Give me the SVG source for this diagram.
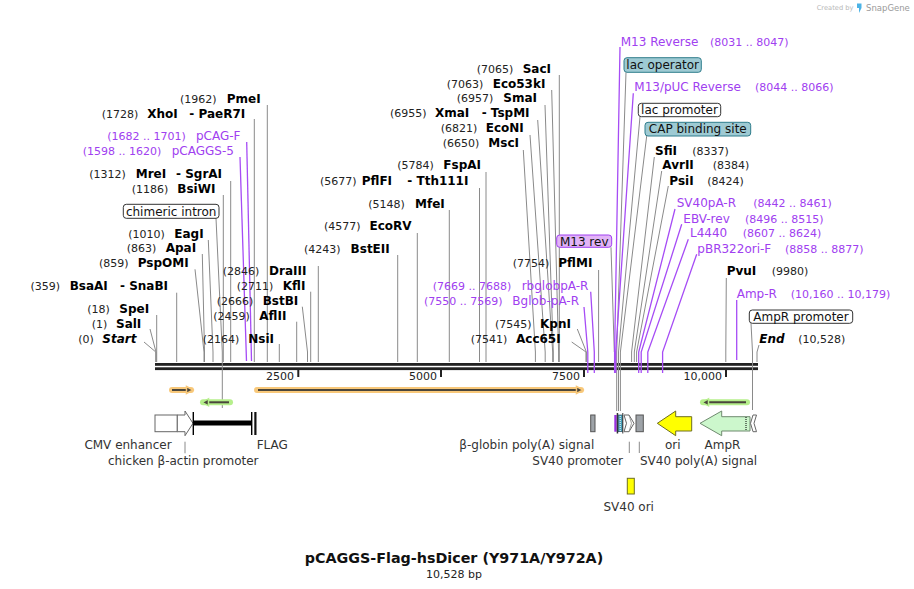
<svg xmlns="http://www.w3.org/2000/svg" width="914" height="589" viewBox="0 0 914 589">
<style>
text{font-family:"DejaVu Sans",Verdana,sans-serif}
.n{font-size:11px;fill:#222}
.b{font-size:12px;font-weight:bold;fill:#000}
.bi{font-size:12px;font-weight:bold;font-style:italic;fill:#000}
.p{font-size:12px;fill:#a040f0}
.pn{font-size:11px;fill:#a040f0}
.f{font-size:12px;fill:#333}
.bx{font-size:12px;fill:#111}
.t{font-size:11px;fill:#222}
.l{stroke:#8a8a8a;stroke-width:1;fill:none}
.lp{stroke:#a64cf5;stroke-width:1.3;fill:none}
.box{fill:#fff;stroke:#333;stroke-width:1}
.blue{fill:#9ecad3;stroke:#2f7d8c;stroke-width:1}
.feat{stroke:#666;stroke-width:1}
</style>

<g id="backbone">
<rect x="155" y="363" width="603" height="2.8" fill="#222"/>
<rect x="155" y="367.3" width="603" height="2.8" fill="#222"/>
<rect x="297.3" y="370" width="2" height="7" fill="#222"/>
<rect x="440" y="370" width="2" height="7" fill="#222"/>
<rect x="583" y="370" width="2" height="7" fill="#222"/>
<rect x="725" y="370" width="2" height="7" fill="#222"/>
<text class="t" x="294" y="379.5" text-anchor="end">2500</text>
<text class="t" x="437" y="379.5" text-anchor="end">5000</text>
<text class="t" x="580" y="379.5" text-anchor="end">7500</text>
<text class="t" x="722" y="379.5" text-anchor="end">10,000</text>
</g>

<g id="connectors">
<path class="l" d="M267.3,105V362"/>
<path class="l" d="M254.3,119V362"/>
<path class="lp" d="M246.7,142L251.5,361"/>
<path class="lp" d="M240,157L246.5,361"/>
<path class="l" d="M230.7,181V362"/>
<path class="l" d="M223.3,195V362"/>
<path class="l" d="M216,218.3L222.3,352V408"/>
<path class="l" d="M208.3,240L213,352V362"/>
<path class="l" d="M202.3,254L204.5,352V362"/>
<path class="l" d="M195,269.3L204,352V362"/>
<path class="l" d="M176.7,292.7V362"/>
<path class="l" d="M156.7,315V362"/>
<path class="l" d="M150,329L156,352V362"/>
<path class="l" d="M144,342L155.8,352V362"/>
<path class="l" d="M318.3,266V362"/>
<path class="l" d="M310.7,291.7V362"/>
<path class="l" d="M302.3,306.7L307.5,352V362"/>
<path class="l" d="M296.7,321.7V362"/>
<path class="l" d="M279.3,344V362"/>
<path class="l" d="M397.7,255V362"/>
<path class="l" d="M417.3,233V362"/>
<path class="l" d="M449.3,210V362"/>
<path class="l" d="M479.5,188V362"/>
<path class="l" d="M486,172V362"/>
<path class="l" d="M523.3,150L535.4,352V362"/>
<path class="l" d="M530,135L545.2,352V362"/>
<path class="l" d="M537.7,120L552.7,352V362"/>
<path class="l" d="M545,105L553.3,352V362"/>
<path class="l" d="M551.7,90L558.6,352V362"/>
<path class="l" d="M559.3,75V362"/>
<path class="l" d="M611,247.3L614.3,352"/>
<path class="l" d="M598.6,270V362"/>
<path class="lp" d="M590.7,291.7L594.3,352V373"/>
<path class="lp" d="M584,307L587.8,352V373"/>
<path class="l" d="M577.3,329L586.4,352V362"/>
<path class="l" d="M571.7,342L586,352V362"/>
<path class="lp" d="M620,47L614.6,352V373"/>
<path class="l" d="M626,72.3L616.7,352V411"/>
<path class="lp" d="M633.3,93.3L615.7,352V373"/>
<path class="l" d="M640,116.7L618.5,352V411"/>
<path class="l" d="M646.7,136L620.4,352V411"/>
<path class="l" d="M654.3,157L631.6,352V362"/>
<path class="l" d="M661.7,171L634.3,352V362"/>
<path class="l" d="M668.3,186L636.6,352V362"/>
<path class="lp" d="M675,209L638.7,352V373"/>
<path class="lp" d="M681.7,224.3L641.2,352V373"/>
<path class="lp" d="M688.3,239.3L647.8,352V373"/>
<path class="lp" d="M696.7,254.3L662.6,352V373"/>
<path class="l" d="M726.3,278L725.8,352V362"/>
<path class="lp" d="M736.7,300V360"/>
<path class="l" d="M751,323.3L752.5,352V410"/>
<path class="l" d="M759,345L757,352V362"/>
<path class="l" d="M185,441.7V453.3"/>
<path class="l" d="M629.3,441.7V453"/>
<path class="l" d="M639.3,441.7V453"/>
</g>

<!-- Left cluster labels -->
<g id="PmeI"><text class="n" x="180" y="103">(1962)</text><text class="b" x="226.7" y="103">PmeI</text></g>
<g id="XhoI"><text class="n" x="101.7" y="118">(1728)</text><text class="b" y="118"><tspan x="147.3">XhoI</tspan><tspan x="189.3">- PaeR7I</tspan></text></g>
<g id="pCAG-F"><text class="pn" x="107.3" y="140">(1682 .. 1701)</text><text class="p" x="196" y="140">pCAG-F</text></g>
<g id="pCAGGS-5"><text class="pn" x="82.7" y="155">(1598 .. 1620)</text><text class="p" x="171.7" y="155">pCAGGS-5</text></g>
<g id="MreI"><text class="n" x="89.3" y="178.3">(1312)</text><text class="b" y="178.3"><tspan x="135.7">MreI</tspan><tspan x="176">- SgrAI</tspan></text></g>
<g id="BsiWI"><text class="n" x="131.7" y="193">(1186)</text><text class="b" x="177.3" y="193">BsiWI</text></g>
<g id="chimeric-intron"><rect class="box" x="123.3" y="204.3" width="95.7" height="14" rx="3"/><text class="bx" x="171.2" y="215.5" text-anchor="middle">chimeric intron</text></g>
<g id="EagI"><text class="n" x="128.3" y="237.5">(1010)</text><text class="b" x="174.3" y="237.5">EagI</text></g>
<g id="ApaI"><text class="n" x="126.7" y="252.3">(863)</text><text class="b" x="165.7" y="252.3">ApaI</text></g>
<g id="PspOMI"><text class="n" x="99" y="267.3">(859)</text><text class="b" x="137.7" y="267.3">PspOMI</text></g>
<g id="BsaAI"><text class="n" x="30.5" y="289.7">(359)</text><text class="b" y="289.7"><tspan x="69.7">BsaAI</tspan><tspan x="120">- SnaBI</tspan></text></g>
<g id="SpeI"><text class="n" x="87.3" y="313">(18)</text><text class="b" x="119.3" y="313">SpeI</text></g>
<g id="SalI"><text class="n" x="91.7" y="328">(1)</text><text class="b" x="116" y="328">SalI</text></g>
<g id="Start"><text class="n" x="78.3" y="343">(0)</text><text class="bi" x="102.3" y="343">Start</text></g>
<g id="DraIII"><text class="n" x="222.7" y="274.7">(2846)</text><text class="b" x="269" y="274.7">DraIII</text></g>
<g id="KflI"><text class="n" x="236.7" y="289.7">(2711)</text><text class="b" x="282.7" y="289.7">KflI</text></g>
<g id="BstBI"><text class="n" x="216.7" y="305">(2666)</text><text class="b" x="262.7" y="305">BstBI</text></g>
<g id="AflII"><text class="n" x="213.3" y="320">(2459)</text><text class="b" x="259.3" y="320">AflII</text></g>
<g id="NsiI"><text class="n" x="202.7" y="343">(2164)</text><text class="b" x="248.3" y="343">NsiI</text></g>

<!-- Middle cluster -->
<g id="BstEII"><text class="n" x="304" y="253">(4243)</text><text class="b" x="350.6" y="253">BstEII</text></g>
<g id="EcoRV"><text class="n" x="324" y="230">(4577)</text><text class="b" x="369.5" y="230">EcoRV</text></g>
<g id="MfeI"><text class="n" x="368.3" y="208">(5148)</text><text class="b" x="415" y="208">MfeI</text></g>
<g id="PflFI"><text class="n" x="320" y="185">(5677)</text><text class="b" y="185"><tspan x="361.7">PflFI</tspan><tspan x="407.3">- Tth111I</tspan></text></g>
<g id="FspAI"><text class="n" x="397.3" y="169">(5784)</text><text class="b" x="443.3" y="169">FspAI</text></g>
<g id="MscI"><text class="n" x="442.7" y="147">(6650)</text><text class="b" x="488.3" y="147">MscI</text></g>
<g id="EcoNI"><text class="n" x="440.7" y="132">(6821)</text><text class="b" x="485.7" y="132">EcoNI</text></g>
<g id="XmaI"><text class="n" x="390" y="117">(6955)</text><text class="b" y="117"><tspan x="435">XmaI</tspan><tspan x="481.7">- TspMI</tspan></text></g>
<g id="SmaI"><text class="n" x="456.7" y="102">(6957)</text><text class="b" x="503.3" y="102">SmaI</text></g>
<g id="Eco53kI"><text class="n" x="446.7" y="88">(7063)</text><text class="b" x="492.7" y="88">Eco53kI</text></g>
<g id="SacI"><text class="n" x="476.7" y="73.3">(7065)</text><text class="b" x="522.7" y="73.3">SacI</text></g>
<g id="M13-rev"><rect x="556.7" y="235" width="55" height="12.3" rx="3" fill="#e2b4f7" stroke="#a040f0"/><text class="bx" x="584.2" y="245.6" text-anchor="middle">M13 rev</text></g>
<g id="PflMI"><text class="n" x="512.7" y="267.3">(7754)</text><text class="b" x="558.3" y="267.3">PflMI</text></g>
<g id="rbglobpA-R"><text class="pn" x="432.7" y="289.7">(7669 .. 7688)</text><text class="p" x="521.7" y="289.7">rbglobpA-R</text></g>
<g id="Bglob-pA-R"><text class="pn" x="424" y="304.7">(7550 .. 7569)</text><text class="p" x="512.3" y="304.7">Bglob-pA-R</text></g>
<g id="KpnI"><text class="n" x="495" y="328">(7545)</text><text class="b" x="540" y="328">KpnI</text></g>
<g id="Acc65I"><text class="n" x="470.7" y="343">(7541)</text><text class="b" x="516" y="343">Acc65I</text></g>

<!-- Right cluster -->
<g id="M13-Reverse"><text class="p" x="620.7" y="45.7">M13 Reverse</text><text class="pn" x="710" y="45.7">(8031 .. 8047)</text></g>
<g id="lac-operator"><rect class="blue" x="624" y="57.7" width="77.3" height="14.6" rx="3"/><text class="bx" x="662.7" y="69.2" text-anchor="middle">lac operator</text></g>
<g id="M13pUC-Reverse"><text class="p" x="634.3" y="90.7">M13/pUC Reverse</text><text class="pn" x="755" y="90.7">(8044 .. 8066)</text></g>
<g id="lac-promoter"><rect class="box" x="638.3" y="103.3" width="82.4" height="13.4" rx="3"/><text class="bx" x="679.5" y="114.2" text-anchor="middle">lac promoter</text></g>
<g id="CAP-binding-site"><rect class="blue" x="645" y="122.3" width="105.7" height="13.7" rx="3"/><text class="bx" x="697.8" y="133.4" text-anchor="middle">CAP binding site</text></g>
<g id="SfiI"><text class="b" x="655" y="155">SfiI</text><text class="n" x="692.3" y="155">(8337)</text></g>
<g id="AvrII"><text class="b" x="662.3" y="169">AvrII</text><text class="n" x="712.7" y="169">(8384)</text></g>
<g id="PsiI"><text class="b" x="669.3" y="185">PsiI</text><text class="n" x="707.3" y="185">(8424)</text></g>
<g id="SV40pA-R"><text class="p" x="676.7" y="207.3">SV40pA-R</text><text class="pn" x="753.3" y="207.3">(8442 .. 8461)</text></g>
<g id="EBV-rev"><text class="p" x="683.3" y="223">EBV-rev</text><text class="pn" x="745" y="223">(8496 .. 8515)</text></g>
<g id="L4440"><text class="p" x="690" y="237.3">L4440</text><text class="pn" x="742.7" y="237.3">(8607 .. 8624)</text></g>
<g id="pBR322ori-F"><text class="p" x="697.3" y="253">pBR322ori-F</text><text class="pn" x="785" y="253">(8858 .. 8877)</text></g>
<g id="PvuI"><text class="b" x="726.7" y="274.7">PvuI</text><text class="n" x="771.7" y="274.7">(9980)</text></g>
<g id="Amp-R"><text class="p" x="736.7" y="298">Amp-R</text><text class="pn" x="790.7" y="298">(10,160 .. 10,179)</text></g>
<g id="AmpR-promoter-label"><rect class="box" x="749.3" y="310" width="103.4" height="13.3" rx="3"/><text class="bx" x="801" y="321" text-anchor="middle">AmpR promoter</text></g>
<g id="End"><text class="bi" x="759.3" y="343">End</text><text class="n" x="798.3" y="343">(10,528)</text></g>

<!-- ORFs -->
<g id="orf1"><path d="M172,390H191" stroke="#f8c87a" stroke-width="6" stroke-linecap="round"/><path d="M172,390H188" stroke="#4a463c" stroke-width="2"/><path d="M186.5,386.5L193,390L186.5,393.5Z" fill="#4a463c" stroke="#f8c87a" stroke-width="1.5"/></g>
<g id="orf2"><path d="M257,390H581" stroke="#f8c87a" stroke-width="6" stroke-linecap="round"/><path d="M258,390H578" stroke="#4a463c" stroke-width="2"/><path d="M576.5,386.5L583,390L576.5,393.5Z" fill="#4a463c" stroke="#f8c87a" stroke-width="1.5"/></g>
<g id="orf3"><path d="M203,402.3H230" stroke="#b6ef8c" stroke-width="6" stroke-linecap="round"/><path d="M207,402.3H229" stroke="#4a463c" stroke-width="2"/><path d="M208.5,398.8L202,402.3L208.5,405.8Z" fill="#4a463c" stroke="#b6ef8c" stroke-width="1.5"/></g>
<g id="orf4"><path d="M703,402.3H747" stroke="#b6ef8c" stroke-width="6" stroke-linecap="round"/><path d="M707,402.3H746" stroke="#4a463c" stroke-width="2"/><path d="M708.5,398.8L702,402.3L708.5,405.8Z" fill="#4a463c" stroke="#b6ef8c" stroke-width="1.5"/></g>

<!-- Features -->
<g id="CMV-enhancer"><rect class="feat" x="155" y="415" width="22.3" height="16.7" fill="#fff"/><text class="f" x="128" y="448.5" text-anchor="middle">CMV enhancer</text></g>
<g id="chicken-actin-promoter"><path class="feat" d="M177.3,415H185V411L193,423.3L185,435.7V431.7H177.3Z" fill="#fff"/><text class="f" x="183.3" y="464.5" text-anchor="middle">chicken β-actin promoter</text></g>
<g id="intron-bar"><rect x="193" y="420.5" width="59" height="5" fill="#000"/><rect x="192.6" y="412" width="1.4" height="23" fill="#000"/><rect x="251" y="412" width="1.4" height="23" fill="#000"/></g>
<g id="FLAG"><rect x="254.3" y="412" width="2.2" height="23" fill="#111"/><text class="f" x="256.7" y="448.5">FLAG</text></g>
<g id="b-globin-polyA"><rect x="590.7" y="415" width="4.3" height="16.7" fill="#9ea3a8" stroke="#555"/><text class="f" x="459.3" y="449">β-globin poly(A) signal</text></g>
<g id="lac-features"><rect x="614.3" y="415" width="2.4" height="16.7" fill="#9b30e0"/><rect x="616.7" y="413" width="1.5" height="20.5" fill="#333"/><rect x="618.2" y="415" width="4.1" height="16.7" fill="#4aa0b8" stroke="#245" stroke-width="0.6"/><path d="M620.2,416V431" stroke="#fff" stroke-width="1" stroke-dasharray="1,1"/><rect x="622.3" y="413" width="1" height="20.5" fill="#333"/></g>
<g id="SV40-promoter"><path class="feat" d="M624,415H629L634,423.3L629,431.7H624L626.5,423.3Z" fill="#fff"/><path d="M629,415L631.5,423.3L629,431.7" stroke="#888" fill="none" stroke-width="0.8"/><text class="f" x="532.3" y="465">SV40 promoter</text></g>
<g id="SV40-polyA"><rect x="636" y="415" width="7.3" height="16.7" fill="#9ea3a8" stroke="#555"/><text class="f" x="640" y="465">SV40 poly(A) signal</text></g>
<g id="ori"><path d="M657.3,423.3L675.7,411V416.7H691.7V431H675.7V435.7Z" fill="#ffff00" stroke="#6e6e20" stroke-width="1"/><text class="f" x="672.8" y="449" text-anchor="middle">ori</text></g>
<g id="AmpR"><path d="M700,423.3L721.7,411V416.7H750V431H721.7V435.7Z" fill="#ccf7cc" stroke="#6f8a6f" stroke-width="1"/><path d="M746,417V431" stroke="#000" stroke-width="1" stroke-dasharray="1,1"/><text class="f" x="722.5" y="449" text-anchor="middle">AmpR</text></g>
<g id="AmpR-promoter"><path class="feat" d="M756.5,415H753L750.5,423.3L753,431.7H756.5L754,423.3Z" fill="#fff"/></g>
<g id="SV40-ori"><rect x="627.3" y="478.3" width="7" height="15.7" fill="#ffff00" stroke="#6e6e20"/><text class="f" x="628.7" y="511" text-anchor="middle">SV40 ori</text></g>

<g id="title">
<text x="454" y="563" text-anchor="middle" style="font-size:14.3px;font-weight:bold;fill:#111">pCAGGS-Flag-hsDicer (Y971A/Y972A)</text>
<text x="454" y="577.5" text-anchor="middle" style="font-size:11px;fill:#222">10,528 bp</text>
</g>
<g id="watermark">
<text x="816.7" y="10" style="font-size:6.7px;fill:#b8b8b8">Created by</text>
<path d="M857,3.5h4.5v4.5l-2.5,5v-5h-2z" fill="#4cb3e6"/>
<text x="866" y="10.5" style="font-size:8.5px;fill:#9a9a9a">SnapGene</text>
</g>
</svg>
